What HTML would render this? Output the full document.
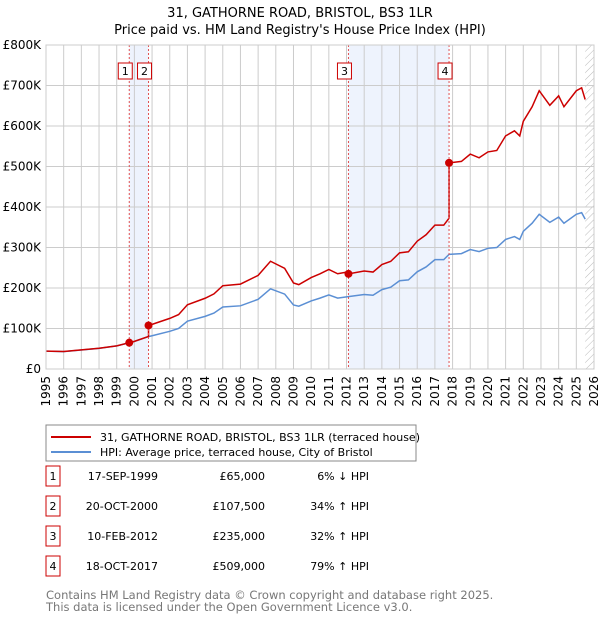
<!DOCTYPE html>
<html><head><meta charset="utf-8"><style>
body{margin:0;background:#fff;font-family:"DejaVu Sans","Liberation Sans",sans-serif;}
svg text{font-family:"DejaVu Sans","Liberation Sans",sans-serif;}
</style></head><body>
<svg id="c" width="600" height="620" xmlns="http://www.w3.org/2000/svg">
<defs><pattern id="hatch" width="5" height="5" patternUnits="userSpaceOnUse" patternTransform="rotate(45)"><line x1="0" y1="0" x2="0" y2="5" stroke="#bbb" stroke-width="1"/></pattern></defs>
<text x="300" y="17" text-anchor="middle" font-size="13">31, GATHORNE ROAD, BRISTOL, BS3 1LR</text>
<text x="300" y="34" text-anchor="middle" font-size="13">Price paid vs. HM Land Registry's House Price Index (HPI)</text>
<g id="plot"></g>
<g>
<rect x="46" y="425" width="370" height="36" fill="#fff" stroke="#888"/>
<line x1="51" y1="437" x2="91" y2="437" stroke="#cc0000" stroke-width="2"/>
<text x="100" y="441" font-size="11">31, GATHORNE ROAD, BRISTOL, BS3 1LR (terraced house)</text>
<line x1="51" y1="452" x2="91" y2="452" stroke="#5b8fd4" stroke-width="2"/>
<text x="100" y="456" font-size="11">HPI: Average price, terraced house, City of Bristol</text>
</g>
<g id="table"></g>
<text x="46" y="599" font-size="11.5" fill="#777">Contains HM Land Registry data © Crown copyright and database right 2025.</text>
<text x="46" y="611" font-size="11.5" fill="#777">This data is licensed under the Open Government Licence v3.0.</text>
</svg>
<script>
const hpiYears=[1995,1996,1997,1998,1999,2000,2000.8,2001,2002,2002.5,2003,2004,2004.5,2005,2006,2007,2007.7,2008.5,2009,2009.3,2010,2010.5,2011,2011.5,2012,2013,2013.5,2014,2014.5,2015,2015.5,2016,2016.5,2017,2017.5,2017.8,2018.5,2019,2019.5,2020,2020.5,2021,2021.5,2021.8,2022,2022.5,2022.9,2023.5,2024,2024.3,2025,2025.3,2025.5];
const hpiValues=[44,43,47,51,57,68,80,82,93,100,118,130,138,153,156,172,198,185,158,155,168,175,183,175,178,184,182,196,202,218,220,240,252,270,270,283,285,295,290,298,300,320,327,320,340,360,382,362,375,360,382,386,370];
const saleYears=[1999.71,2000.8,2012.11,2017.8];
const salePrices=[65,107.5,235,509];
const saleDates=["17-SEP-1999","20-OCT-2000","10-FEB-2012","18-OCT-2017"];
const salePriceLabels=["£65,000","£107,500","£235,000","£509,000"];
const saleHpiLabels=["6% ↓ HPI","34% ↑ HPI","32% ↑ HPI","79% ↑ HPI"];
const yTicks=[0,100,200,300,400,500,600,700,800];
const yTickLabels=["£0","£100K","£200K","£300K","£400K","£500K","£600K","£700K","£800K"];
const xTicks=[];for(let y=1995;y<=2026;y++)xTicks.push(y);

const X0=46,X1=594,Y0=369,Y1=45;
const x=v=>X0+(v-1995)/31*(X1-X0);
const y=v=>Y0-v/800*(Y0-Y1);
const NS="http://www.w3.org/2000/svg";
const g=document.getElementById('plot');
function mk(t,a,p){const e=document.createElementNS(NS,t);for(const k in a)e.setAttribute(k,a[k]);(p||g).appendChild(e);return e;}
function hpiAt(t){for(let i=0;i<hpiYears.length-1;i++){if(t<=hpiYears[i+1]){const f=(t-hpiYears[i])/(hpiYears[i+1]-hpiYears[i]);return hpiValues[i]+f*(hpiValues[i+1]-hpiValues[i]);}}return hpiValues[hpiValues.length-1];}

for(const [a,b] of [[0,1],[2,3]]){
 const r=mk('rect',{x:x(saleYears[a]),y:Y1,width:x(saleYears[b])-x(saleYears[a]),height:Y0-Y1,fill:'#eef3fd'});
 
 
}
const hz=mk('rect',{x:x(2025.5),y:Y1,width:X1-x(2025.5),height:Y0-Y1,fill:'url(#hatch)'});


xTicks.forEach(t=>{
 const l=mk('line',{x1:x(t),x2:x(t),y1:Y1,y2:Y0,stroke:'#ccc','stroke-width':1});
 
 
 const tx=mk('text',{x:0,y:0,'font-size':12,'text-anchor':'end',transform:`translate(${x(t)+4},${Y0+7}) rotate(-90)`});
 tx.textContent=t;
 
 
});
yTicks.forEach((t,i)=>{
 const l=mk('line',{x1:X0,x2:X1,y1:y(t),y2:y(t),stroke:'#ccc','stroke-width':1});
 
 
 const tx=mk('text',{x:41,y:y(t)+4,'font-size':12,'text-anchor':'end'});
 tx.textContent=yTickLabels[i];
 
 
});
const hp=mk('polyline',{points:hpiYears.map((t,i)=>x(t)+','+y(hpiValues[i])).join(' '),fill:'none',stroke:'#5b8fd4','stroke-width':1.5});


const pts=[];
const times=[...hpiYears,...saleYears].sort((a,b)=>a-b);
function ratioAt(t){let k=-1;for(let i=0;i<saleYears.length;i++)if(t>=saleYears[i])k=i;if(k<0)return salePrices[0]/hpiAt(saleYears[0]);return salePrices[k]/hpiAt(saleYears[k]);}
times.forEach(t=>{
 const si=saleYears.indexOf(t);
 if(si>0)pts.push([t,hpiAt(t)*ratioAt(saleYears[si-1])]);
 pts.push([t,hpiAt(t)*ratioAt(t)]);
});
const pl=mk('polyline',{points:pts.map(p=>x(p[0])+','+y(p[1])).join(' '),fill:'none',stroke:'#cc0000','stroke-width':1.5});


saleYears.forEach((t,i)=>{
 const v=mk('line',{x1:x(t),x2:x(t),y1:Y1,y2:Y0,stroke:'#e05050','stroke-width':1,'stroke-dasharray':'2,2'});
 
 
 const d=mk('circle',{cx:x(t),cy:y(salePrices[i]),r:4,fill:'#cc0000'});
 
 
 const b=mk('rect',{x:x(t)-11,y:63,width:14,height:16,fill:'#fff',stroke:'#cc0000'});
 
 
 const tx=mk('text',{x:x(t)-4,y:75,'font-size':11,'text-anchor':'middle'});
 tx.textContent=i+1;
 
 
});
mk('rect',{x:X0,y:Y1,width:X1-X0,height:Y0-Y1,fill:'none',stroke:'#ccc'});
const tb=document.getElementById('table');
saleDates.forEach((d,i)=>{
 const yy=483+i*30;
 const b=mk('rect',{x:46,y:yy-17,width:14,height:20,fill:'#fff',stroke:'#cc0000'},tb);
 
 
 const n=mk('text',{x:53,y:yy-3,'font-size':11,'text-anchor':'middle'},tb);n.textContent=i+1;
 
 
 const t1=mk('text',{x:158,y:yy-3,'font-size':11,'text-anchor':'end'},tb);t1.textContent=d;
 
 
 const t2=mk('text',{x:265,y:yy-3,'font-size':11,'text-anchor':'end'},tb);t2.textContent=salePriceLabels[i];
 
 
 const t3=mk('text',{x:369,y:yy-3,'font-size':11,'text-anchor':'end'},tb);t3.textContent=saleHpiLabels[i];
 
 
});
</script>
</body></html>
